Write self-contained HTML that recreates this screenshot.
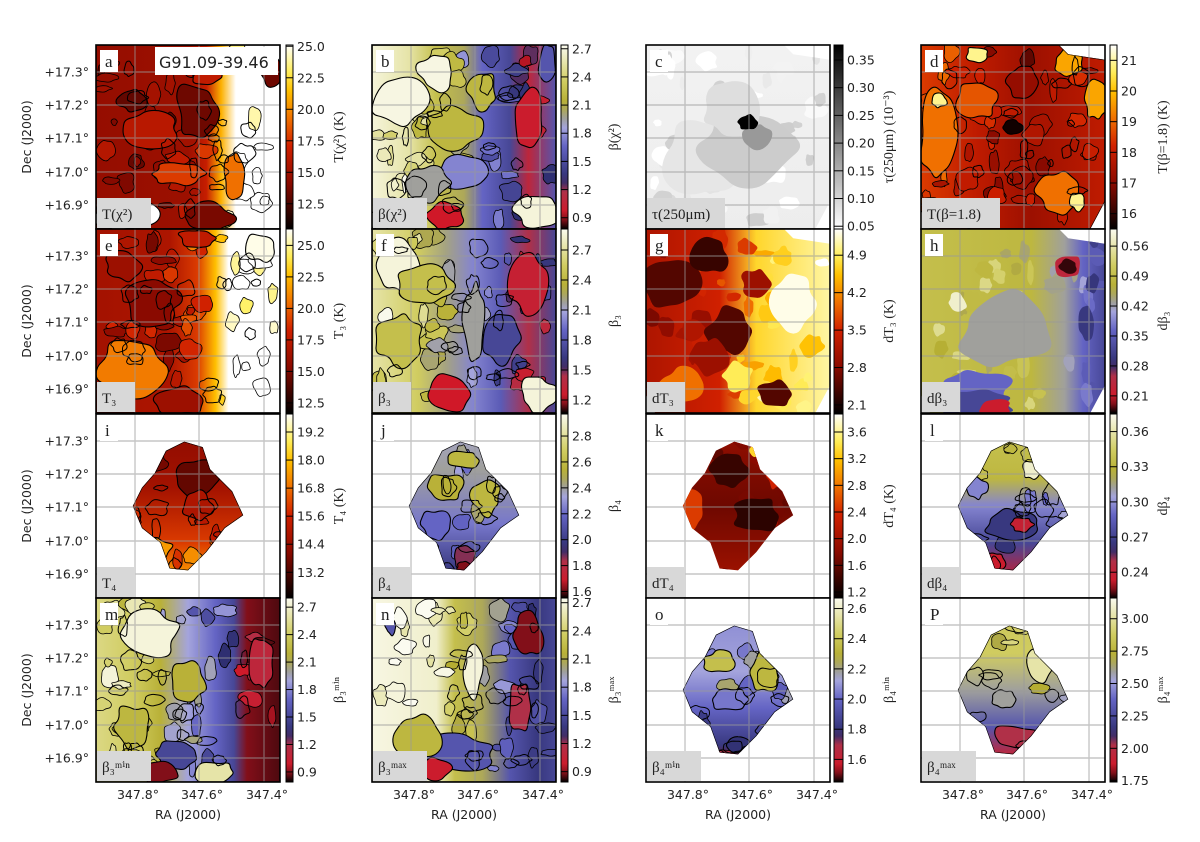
<!DOCTYPE html>
<html><head><meta charset="utf-8"><style>
html,body{margin:0;padding:0;background:#fff;}
svg{display:block;}
text{font-family:"DejaVu Sans","Liberation Sans",sans-serif;fill:#222;}
.serif{font-family:"Liberation Serif","DejaVu Serif",serif;}
</style></head><body>
<svg id="fig" width="1200" height="842" viewBox="0 0 1200 842" xmlns="http://www.w3.org/2000/svg"></svg>
<script>
// ---- layout data ----
const colX = [96, 372, 646, 921];
const cbarX = [286, 561, 834, 1110];
const cbarW = [7, 7, 9, 7];
const rowY = [45, 229, 414, 598];
const PW = 184, PH = 184;
const raTicks = ['347.8°', '347.6°', '347.4°'];
const raOffsets = [39, 103, 168];
const decTicks = ['+17.3°', '+17.2°', '+17.1°', '+17.0°', '+16.9°'];
const decOffsets = [27, 60, 93, 127, 160];

// ---- panel data ----
const letters = ['a','b','c','d','e','f','g','h','i','j','k','l','m','n','o','P'];
const cmaps = ['hot','div','gray','hot','hot','div','hot','div','hot','div','hot','div','div','div','div','div'];
const tickVals = [
 [12.5,15,17.5,20,22.5,25],[0.9,1.2,1.5,1.8,2.1,2.4,2.7],[0.05,0.1,0.15,0.2,0.25,0.3,0.35],[16,17,18,19,20,21],
 [12.5,15,17.5,20,22.5,25],[1.2,1.5,1.8,2.1,2.4,2.7],[2.1,2.8,3.5,4.2,4.9],[0.21,0.28,0.35,0.42,0.49,0.56],
 [13.2,14.4,15.6,16.8,18,19.2],[1.6,1.8,2.0,2.2,2.4,2.6,2.8],[1.2,1.6,2.0,2.4,2.8,3.2,3.6],[0.24,0.27,0.30,0.33,0.36],
 [0.9,1.2,1.5,1.8,2.1,2.4,2.7],[0.9,1.2,1.5,1.8,2.1,2.4,2.7],[1.6,1.8,2.0,2.2,2.4,2.6],[1.75,2.0,2.25,2.5,2.75,3.0]];
const tickDec = [1,1,2,0,1,1,1,2,1,1,1,2,1,1,1,2];
const vmins = [10.5,0.78,0.045,15.5,11.7,1.07,1.95,0.17,12.1,1.55,1.11,0.218,0.79,0.79,1.45,1.74];
const vmaxs = [25.1,2.74,0.377,21.5,26.3,2.91,5.39,0.6,19.97,2.97,3.87,0.375,2.8,2.75,2.67,3.16];
const cbTitles = ['T(χ²) (K)','β(χ²)','τ(250μm) (10⁻³)','T(β=1.8) (K)','T₃ (K)','β₃','dT₃ (K)','dβ₃','T₄ (K)','β₄','dT₄ (K)','dβ₄','β₃ᵐⁱⁿ','β₃ᵐᵃˣ','β₄ᵐⁱⁿ','β₄ᵐᵃˣ'];
const mapLabels = ['T(χ²)','β(χ²)','τ(250μm)','T(β=1.8)','T₃','β₃','dT₃','dβ₃','T₄','β₄','dT₄','dβ₄','β₃ᵐⁱⁿ','β₃ᵐᵃˣ','β₄ᵐⁱⁿ','β₄ᵐᵃˣ'];
const shapes = ['rect','rect','cut','cut','rect','rect','cut','cut','dia','dia','dia','dia','rect','rect','dia','dia'];
const hasContours = [1,1,0,1,1,1,0,0,1,1,0,1,1,1,1,1];
const gradDirs = ['x','x','y','x','x','x','x','x','y','y','y','y','x','x','y','y'];
const grads = [
 [[0,.28],[.5,.3],[.6,.42],[.68,.72],[.76,1]],
 [[0,.97],[.2,.9],[.35,.75],[.5,.65],[.6,.45],[.75,.35],[.85,.15],[1,.4]],
 [[0,.05],[1,.07]],
 [[0,.5],[.3,.4],[.6,.3],[1,.4]],
 [[0,.32],[.4,.35],[.55,.5],[.65,.75],[.72,1]],
 [[0,.9],[.25,.8],[.4,.62],[.55,.5],[.7,.42],[.85,.2],[1,.35]],
 [[0,.35],[.4,.45],[.6,.8],[1,.92]],
 [[0,.75],[.6,.72],[.78,.6],[.88,.45],[1,.35]],
 [[0,.25],[.4,.32],[.7,.5],[.85,.65]],
 [[0,.55],[.3,.6],[.6,.48],[.85,.3]],
 [[0,.3],[.5,.2],[1,.35]],
 [[0,.78],[.35,.72],[.5,.5],[.7,.35],[.9,.1]],
 [[0,.85],[.2,.8],[.35,.7],[.5,.55],[.65,.45],[.75,.35],[.82,.05],[1,.03]],
 [[0,.98],[.35,.95],[.45,.75],[.6,.65],[.75,.4],[.9,.3],[1,.35]],
 [[0,.5],[.4,.55],[.6,.45],[.8,.3],[.9,.05]],
 [[0,.78],[.3,.8],[.5,.6],[.7,.4],[.85,.15],[.92,.02]]];
const patches = [
 [[.15,.93,.2,.08,1],[.6,.93,.15,.08,.22],[.3,.45,.15,.1,.38],[.55,.35,.12,.15,.2],[.2,.3,.08,.06,.18],[.45,.7,.15,.06,.5],[.75,.7,.06,.12,.6],[.95,.15,.05,.1,.2],[.6,.15,.1,.06,.4]],
 [[.15,.3,.15,.15,.98],[.35,.15,.1,.1,.98],[.45,.45,.15,.12,.72],[.5,.7,.15,.1,.5],[.3,.75,.12,.1,.6],[.4,.92,.1,.08,.08],[.85,.4,.08,.15,.1],[.9,.9,.12,.1,.97],[.95,.1,.05,.1,.4],[.6,.25,.08,.1,.72]],
 [[.3,.6,.2,.2,.1],[.55,.55,.25,.2,.2],[.45,.35,.15,.15,.13],[.6,.5,.08,.07,.4],[.55,.42,.05,.04,1]],
 [[.1,.5,.1,.25,.6],[.3,.3,.12,.1,.55],[.75,.8,.12,.12,.6],[.5,.45,.05,.04,.03],[.1,.3,.04,.04,.9],[.8,.1,.08,.08,.7],[.3,.05,.06,.04,.9],[.95,.3,.06,.1,.7],[.55,.2,.08,.1,.28],[.85,.85,.04,.05,.9]],
 [[.2,.75,.18,.15,.62],[.3,.4,.15,.12,.25],[.15,.2,.1,.08,.3],[.45,.93,.15,.08,.3],[.55,.05,.1,.05,.4],[.9,.1,.08,.08,.98]],
 [[.15,.2,.12,.15,.97],[.3,.3,.15,.12,.75],[.15,.6,.12,.15,.75],[.55,.5,.06,.2,.6],[.4,.9,.12,.1,.08],[.85,.3,.1,.15,.12],[.9,.9,.1,.1,.97],[.7,.6,.1,.15,.35]],
 [[.15,.3,.15,.15,.15],[.35,.15,.1,.1,.1],[.45,.55,.12,.12,.15],[.35,.7,.1,.1,.3],[.7,.9,.1,.08,.15],[.6,.3,.08,.08,.3],[.5,.8,.08,.08,.85],[.2,.85,.12,.1,.6],[.8,.4,.12,.15,.98],[.55,.1,.05,.05,.5]],
 [[.45,.55,.25,.2,.6],[.3,.85,.2,.08,.45],[.3,.95,.2,.08,.35],[.4,.97,.08,.05,.1],[.8,.2,.08,.06,.15],[.8,.2,.05,.04,.02],[.2,.4,.05,.05,.95],[.9,.5,.04,.1,.3]],
 [[.55,.35,.12,.1,.18],[.3,.75,.12,.08,.68],[.55,.5,.08,.08,.35]],
 [[.4,.4,.1,.08,.7],[.62,.45,.08,.1,.72],[.5,.25,.08,.05,.72],[.35,.6,.08,.08,.45],[.5,.78,.06,.06,.22],[.5,.83,.04,.03,.05]],
 [[.45,.3,.1,.1,.1],[.6,.55,.12,.1,.08],[.25,.5,.06,.12,.5],[.7,.3,.06,.1,.45],[.6,.2,.04,.04,.8],[.3,.8,.05,.05,.6]],
 [[.5,.6,.15,.08,.3],[.55,.6,.06,.04,.12],[.4,.8,.06,.05,.1],[.3,.4,.06,.06,.5],[.6,.3,.05,.05,.95]],
 [[.3,.2,.15,.12,.97],[.2,.7,.1,.12,.72],[.45,.85,.12,.08,.35],[.35,.95,.1,.06,.05],[.65,.95,.1,.06,.9],[.5,.45,.1,.1,.7],[.9,.35,.06,.15,.15]],
 [[.45,.85,.2,.1,.4],[.35,.93,.1,.06,.1],[.85,.2,.08,.12,.05],[.55,.4,.05,.15,.97],[.25,.75,.12,.12,.72],[.8,.6,.06,.15,.2],[.1,.15,.03,.05,.4]],
 [[.4,.35,.08,.06,.75],[.65,.4,.08,.12,.72],[.45,.55,.1,.06,.48],[.5,.8,.06,.04,.28]],
 [[.5,.75,.12,.06,.2],[.45,.55,.06,.05,.6],[.65,.35,.08,.1,.9]]];

// ---- colormaps ----
const CM = {
 hot: [[0,'#000000'],[0.25,'#8a0a00'],[0.45,'#d02000'],[0.6,'#f07000'],[0.75,'#ffc000'],[0.86,'#fff060'],[1,'#ffffff']],
 div: [[0,'#000000'],[0.08,'#d01828'],[0.2,'#b03048'],[0.26,'#2c2c6c'],[0.45,'#6464c4'],[0.55,'#a4a4dc'],[0.6,'#a0a09c'],[0.68,'#b4ac30'],[0.8,'#d0cc60'],[1,'#fbfbf0']],
 gray: [[0,'#ffffff'],[1,'#000000']]
};
function hex2(c){return [1,3,5].map(i=>parseInt(c.substr(i,2),16));}
function cmap(name,v){
  const s=CM[name]; v=Math.max(0,Math.min(1,v));
  for(let i=1;i<s.length;i++){ if(v<=s[i][0]){ const t=(v-s[i-1][0])/(s[i][0]-s[i-1][0]); const a=hex2(s[i-1][1]),b=hex2(s[i][1]); return 'rgb('+a.map((x,k)=>Math.round(x+(b[k]-x)*t)).join(',')+')'; } }
  return s[s.length-1][1];
}
function gradAt(gr,f){
  if(f<=gr[0][0])return gr[0][1];
  for(let k=1;k<gr.length;k++){ if(f<=gr[k][0]){const t=(f-gr[k-1][0])/(gr[k][0]-gr[k-1][0]); return gr[k-1][1]+(gr[k][1]-gr[k-1][1])*t;} }
  return gr[gr.length-1][1];
}
const SHAPES = {
 rect:[[0,0],[1,0],[1,1],[0,1]],
 cut:[[0,0],[.75,0],[.8,.05],[1,.08],[1,.85],[.92,1],[.05,1],[0,.9]],
 dia:[[.38,.2],[.48,.15],[.58,.18],[.62,.3],[.74,.42],[.8,.55],[.7,.62],[.6,.75],[.5,.85],[.4,.84],[.35,.7],[.25,.62],[.2,.5],[.25,.4],[.32,.32]]
};
let seed=7; function rnd(){seed=(seed*16807)%2147483647; return seed/2147483647;}
function blob(cx,cy,rx,ry){
  const n=14, pts=[];
  for(let i=0;i<n;i++){const a=i/n*Math.PI*2, k=0.75+0.5*rnd(); pts.push([cx+Math.cos(a)*rx*k, cy+Math.sin(a)*ry*k]);}
  let d='';
  for(let i=0;i<n;i++){const p=pts[i], q=pts[(i+1)%n]; const m=[(p[0]+q[0])/2,(p[1]+q[1])/2];
    if(i===0){const l=pts[n-1]; d+='M'+((l[0]+p[0])/2).toFixed(1)+','+((l[1]+p[1])/2).toFixed(1);}
    d+=' Q'+p[0].toFixed(1)+','+p[1].toFixed(1)+' '+m[0].toFixed(1)+','+m[1].toFixed(1);}
  return d+'Z';
}
const NS='http://www.w3.org/2000/svg';
const svg=document.getElementById('fig');
const defs=document.createElementNS(NS,'defs'); svg.appendChild(defs);
function mk(tag,attrs,parent){const e=document.createElementNS(NS,tag); for(const k in attrs)e.setAttribute(k,attrs[k]); (parent||svg).appendChild(e); return e;}

letters.forEach((L,i)=>{
  const col=i%4,row=Math.floor(i/4), x0=colX[col], y0=rowY[row], cm=cmaps[i];
  const g=mk('g',{});
  
  
  const cp=mk('clipPath',{id:'clip'+i},defs);
  mk('polygon',{points:SHAPES[shapes[i]].map(p=>(x0+p[0]*PW)+','+(y0+p[1]*PH)).join(' ')},cp);
  const cpp=mk('clipPath',{id:'pclip'+i},defs);
  mk('rect',{x:x0,y:y0,width:PW,height:PH},cpp);
  const lg=mk('linearGradient',{id:'grad'+i,x1:0,y1:0,x2:gradDirs[i]==='x'?1:0,y2:gradDirs[i]==='y'?1:0},defs);
  grads[i].forEach(s=>mk('stop',{offset:s[0],'stop-color':cmap(cm,s[1])},lg));
  mk('rect',{x:x0,y:y0,width:PW,height:PH,fill:'#fff'},g);
  const mg=mk('g',{'clip-path':'url(#clip'+i+')'},g);
  const bg=mk('rect',{x:x0,y:y0,width:PW,height:PH,fill:'url(#grad'+i+')'},mg);
  
  
  // fine texture
  const nTex = shapes[i]==='dia'?22:45;
  for(let k=0;k<nTex;k++){
    const fx=0.03+0.94*rnd(), fy=0.03+0.94*rnd();
    const f=gradDirs[i]==='x'?fx:fy;
    const v=gradAt(grads[i],f)+(rnd()-0.5)*0.28;
    const te=mk('path',{d:blob(x0+fx*PW,y0+fy*PH,3+9*rnd(),3+9*rnd()),fill:cmap(cm,v),stroke:hasContours[i]?'#000':'none','stroke-width':0.8},mg);
    
    
  }
  patches[i].forEach(p=>{
    const pe=mk('path',{d:blob(x0+p[0]*PW,y0+p[1]*PH,p[2]*PW,p[3]*PH),fill:cmap(cm,p[4]),stroke:hasContours[i]?'#000':'none','stroke-width':1.1},mg);
    
    
  });
  if(hasContours[i]){
    for(let k=0;k<16;k++){
      const cx=x0+PW*(0.1+0.8*rnd()), cy=y0+PH*(0.1+0.8*rnd());
      const ce=mk('path',{d:blob(cx,cy,3+8*rnd(),3+8*rnd()),fill:'none',stroke:'#000','stroke-width':1},mg);
      
      
    }
    const outline=mk('polygon',{points:SHAPES[shapes[i]].map(p=>(x0+p[0]*PW)+','+(y0+p[1]*PH)).join(' '),fill:'none',stroke:'#000','stroke-width':1.2},mg);
    
    
  }
  const gg=mk('g',{stroke:'#999','stroke-width':1.4,opacity:0.55,'clip-path':'url(#pclip'+i+')'},g);
  raOffsets.forEach(o=>mk('line',{x1:x0+o,y1:y0,x2:x0+o,y2:y0+PH},gg));
  decOffsets.forEach(o=>mk('line',{x1:x0,y1:y0+o,x2:x0+PW,y2:y0+o},gg));
  const fr=mk('rect',{x:x0,y:y0,width:PW,height:PH,fill:'none',stroke:'#000','stroke-width':1.6},g);
  
  
  mk('rect',{x:x0+4,y:y0+5,width:18,height:22,fill:'#fff'},g);
  const lt=mk('text',{x:x0+9,y:y0+22,'font-size':17,class:'serif'},g);
  lt.textContent=L;
  
  
  const lw=Math.max(38,mapLabels[i].length*8+14);
  mk('rect',{x:x0+1,y:y0+PH-31,width:lw,height:30,fill:'#d8d8d8'},g);
  const ml=mk('text',{x:x0+6,y:y0+PH-10,'font-size':15,class:'serif'},g);
  ml.textContent=mapLabels[i];
  
  
  const cx0=cbarX[col], cw=cbarW[col];
  const cg=mk('linearGradient',{id:'cb'+i,x1:0,y1:1,x2:0,y2:0},defs);
  for(let k=0;k<=20;k++) mk('stop',{offset:k/20,'stop-color':cmap(cm,k/20)},cg);
  const cb=mk('rect',{x:cx0,y:y0,width:cw,height:PH,fill:'url(#cb'+i+')',stroke:'#000','stroke-width':1},g);
  
  
  const ys=v=>y0+PH-(v-vmins[i])/(vmaxs[i]-vmins[i])*PH;
  tickVals[i].forEach(v=>{
    const y=ys(v);
    mk('line',{x1:cx0,y1:y,x2:cx0+cw,y2:y,stroke:'#000','stroke-width':1},g);
    const t=mk('text',{x:cx0+cw+4,y:y+4.5,'font-size':12.5},g);
    t.textContent=v.toFixed(tickDec[i]);
    
    
  });
  const tt=mk('text',{x:0,y:0,'font-size':14,class:'serif','text-anchor':'middle',transform:'translate('+(cx0+cw+50)+','+(y0+PH/2)+') rotate(-90)'},g);
  tt.textContent=cbTitles[i];
  
  
  if(col===0){
    decTicks.forEach((d,k)=>{const t=mk('text',{x:89,y:y0+decOffsets[k]+4.5,'font-size':12.5,'text-anchor':'end'},g); t.textContent=d;
       });
    const yl=mk('text',{x:0,y:0,'font-size':12.5,'text-anchor':'middle',transform:'translate(31,'+(y0+PH/2)+') rotate(-90)'},g);
    yl.textContent='Dec (J2000)';
    
    
  }
  if(row===3){
    raTicks.forEach((r,k)=>{const t=mk('text',{x:x0+raOffsets[k]+3,y:y0+PH+17,'font-size':12.5,'text-anchor':'middle'},g); t.textContent=r;
       });
    const xl=mk('text',{x:x0+PW/2,y:y0+PH+37,'font-size':12.5,'text-anchor':'middle'},g);
    xl.textContent='RA (J2000)';
    
    
  }
});
const nb=mk('rect',{x:155,y:47,width:123,height:28,fill:'#fff'});
const nt=mk('text',{x:159,y:68,'font-size':16});
nt.textContent='G91.09-39.46';


</script>
</body></html>
